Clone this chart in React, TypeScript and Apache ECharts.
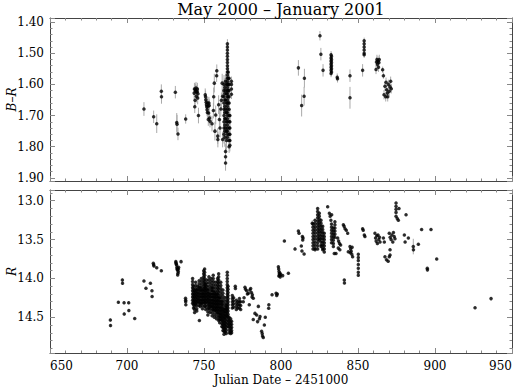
import React, { useEffect, useRef } from "react";
import * as echarts from "echarts";

// ---------- DATA ----------
const xTickLabels = [650, 700, 750, 800, 850, 900, 950];
const titleText = "May 2000 – January 2001";
const xName = "Julian Date – 2451000";

// B-R individual points: [JD-2451000, B-R, error]
const brPoints: [number, number, number][] = [
  [711.0, 1.679, 0.022], [717.3, 1.704, 0.02], [719.3, 1.726, 0.03], [722.3, 1.622, 0.022], [722.4, 1.64, 0.022],
  [731.4, 1.625, 0.02], [732.3, 1.722, 0.03], [732.5, 1.728, 0.03], [733.1, 1.759, 0.02], [738.1, 1.711, 0.015],
  [743.6, 1.628, 0.02], [743.8, 1.615, 0.02], [744.0, 1.672, 0.02], [744.2, 1.651, 0.02], [744.4, 1.617, 0.02],
  [744.6, 1.622, 0.02], [744.8, 1.612, 0.02], [745.0, 1.638, 0.02], [745.2, 1.625, 0.02], [745.5, 1.622, 0.02],
  [745.7, 1.615, 0.02], [745.9, 1.644, 0.02], [746.1, 1.63, 0.02], [746.4, 1.7, 0.025],
  [750.8, 1.633, 0.02], [751.0, 1.64, 0.02], [751.2, 1.649, 0.02], [751.4, 1.657, 0.02], [751.6, 1.665, 0.02],
  [751.8, 1.672, 0.02], [752.0, 1.681, 0.02], [752.2, 1.69, 0.02], [752.4, 1.66, 0.02], [752.6, 1.67, 0.02],
  [752.8, 1.713, 0.02], [753.0, 1.692, 0.02], [753.2, 1.66, 0.02], [753.4, 1.668, 0.02], [753.6, 1.708, 0.02],
  [753.9, 1.718, 0.02],
  [755.2, 1.726, 0.025], [756.1, 1.684, 0.025], [756.3, 1.64, 0.03], [756.7, 1.596, 0.03], [757.1, 1.75, 0.03],
  [757.6, 1.698, 0.03], [758.2, 1.572, 0.02], [758.3, 1.556, 0.02], [758.9, 1.766, 0.025], [759.0, 1.777, 0.025],
  [759.5, 1.665, 0.03], [760.0, 1.713, 0.03], [760.4, 1.74, 0.03], [760.9, 1.679, 0.025], [761.3, 1.651, 0.025],
  [761.8, 1.596, 0.03], [762.1, 1.777, 0.025], [762.1, 1.638, 0.025],
  [811.3, 1.547, 0.025], [813.4, 1.668, 0.035], [815.0, 1.638, 0.03], [815.2, 1.58, 0.03], [825.3, 1.444, 0.015],
  [825.9, 1.503, 0.02], [827.3, 1.555, 0.02], [836.5, 1.577, 0.012], [836.7, 1.582, 0.012], [844.8, 1.572, 0.02],
  [844.8, 1.643, 0.035], [853.0, 1.555, 0.02],
  [861.7, 1.552, 0.015], [862.0, 1.528, 0.015], [862.3, 1.52, 0.015], [862.6, 1.535, 0.015], [863.0, 1.525, 0.015],
  [863.3, 1.545, 0.015], [863.6, 1.53, 0.015], [863.8, 1.52, 0.015], [866.0, 1.553, 0.01], [866.5, 1.572, 0.01],
  [866.9, 1.633, 0.015], [867.5, 1.606, 0.015], [868.0, 1.64, 0.015], [868.2, 1.593, 0.015], [868.6, 1.617, 0.015],
  [869.1, 1.628, 0.015], [869.3, 1.64, 0.015], [869.7, 1.6, 0.015], [870.3, 1.622, 0.015], [870.8, 1.608, 0.015],
  [871.2, 1.59, 0.015], [871.6, 1.614, 0.015],
];

// B-R nights with many observations: [JD-2451000, error, values]
const brStrips: [number, number, number[]][] = [
  [763.0, 0.03, [1.6, 1.62, 1.64, 1.66, 1.68, 1.7, 1.72, 1.74, 1.76]],
  [763.5, 0.03, [1.61, 1.63, 1.65, 1.67, 1.69, 1.71, 1.73, 1.75, 1.77]],
  [764.0, 0.025, [1.59, 1.62, 1.65, 1.68, 1.71, 1.74, 1.815, 1.832, 1.852]],
  [764.6, 0.03, [1.6, 1.63, 1.66, 1.69, 1.72, 1.75, 1.78]],
  [765.2, 0.015, [1.47, 1.48, 1.49, 1.5, 1.51, 1.52, 1.53, 1.54, 1.55, 1.56, 1.57, 1.58, 1.59, 1.6, 1.61, 1.62, 1.63, 1.64, 1.65, 1.66, 1.67, 1.68, 1.69, 1.7, 1.71, 1.72, 1.73, 1.74, 1.75, 1.76, 1.77]],
  [765.7, 0.02, [1.56, 1.58, 1.6, 1.62, 1.64, 1.66]],
  [766.3, 0.02, [1.58, 1.6, 1.62, 1.64, 1.66, 1.68, 1.7, 1.72, 1.74, 1.76, 1.78, 1.8]],
  [766.8, 0.02, [1.7, 1.72, 1.74, 1.76, 1.78, 1.795]],
  [767.8, 0.015, [1.59, 1.6, 1.615, 1.632]],
  [832.5, 0.012, [1.505, 1.515, 1.525, 1.535, 1.545, 1.555, 1.565]],
  [832.8, 0.012, [1.51, 1.52, 1.53, 1.54, 1.55, 1.56]],
  [854.0, 0.01, [1.46, 1.47, 1.48, 1.49, 1.5, 1.505]],
];

// R individual points: [JD-2451000, R, error]
const rPoints: [number, number, number][] = [
  [689.2, 14.535, 0.02], [689.3, 14.607, 0.02], [694.4, 14.307, 0.015], [697.0, 14.02, 0.02], [697.1, 14.063, 0.02],
  [698.1, 14.312, 0.02], [698.2, 14.457, 0.02], [701.1, 14.312, 0.02], [701.2, 14.414, 0.02], [705.0, 14.517, 0.01],
  [711.0, 14.033, 0.01], [712.3, 14.127, 0.01], [715.2, 14.063, 0.01], [716.2, 14.16, 0.01], [716.3, 14.234, 0.01],
  [717.1, 13.806, 0.01], [717.3, 13.825, 0.01], [717.5, 13.84, 0.01], [719.3, 13.862, 0.01], [722.3, 13.9, 0.01],
  [731.7, 13.784, 0.01], [731.8, 13.8, 0.01], [732.0, 13.815, 0.01], [732.2, 13.827, 0.01], [732.4, 13.86, 0.01],
  [732.6, 13.88, 0.01], [732.7, 13.89, 0.01], [732.9, 13.956, 0.01], [733.1, 13.934, 0.01], [733.3, 13.91, 0.01],
  [733.5, 13.857, 0.01], [733.4, 13.88, 0.01], [735.1, 13.784, 0.01],
  [738.0, 14.256, 0.01], [738.1, 14.28, 0.01], [738.1, 14.3, 0.01], [738.2, 14.34, 0.01],
  [747.0, 14.543, 0.01], [770.3, 14.1, 0.01], [770.4, 14.13, 0.01],
  [775.5, 14.3, 0.01], [776.0, 14.25, 0.01], [776.6, 14.114, 0.01], [777.0, 14.14, 0.01], [777.7, 14.16, 0.01],
  [778.2, 14.2, 0.01], [778.8, 14.19, 0.01], [779.4, 14.34, 0.01], [779.8, 14.15, 0.01], [780.3, 14.13, 0.01],
  [780.8, 14.18, 0.01], [781.4, 14.21, 0.01], [782.0, 14.256, 0.01], [781.2, 14.24, 0.01],
  [782.0, 14.53, 0.01], [783.1, 14.45, 0.01], [784.2, 14.47, 0.01], [784.8, 14.556, 0.01], [785.3, 14.36, 0.01],
  [786.4, 14.49, 0.01], [786.0, 14.52, 0.01],
  [787.4, 14.68, 0.01], [787.8, 14.71, 0.01], [788.0, 14.74, 0.01], [788.5, 14.76, 0.01], [789.2, 14.6, 0.01],
  [789.8, 14.5, 0.01], [792.0, 14.385, 0.01], [792.1, 14.34, 0.01], [794.2, 14.21, 0.01], [796.8, 14.19, 0.01],
  [797.2, 14.22, 0.01], [797.6, 14.2, 0.01],
  [798.3, 13.85, 0.01], [798.5, 13.88, 0.01], [798.7, 13.91, 0.01], [798.9, 13.94, 0.01], [799.1, 13.96, 0.01],
  [799.3, 13.93, 0.01], [799.5, 13.98, 0.01], [799.8, 13.95, 0.01], [798.6, 13.97, 0.01],
  [801.1, 13.964, 0.01], [802.2, 13.519, 0.01], [804.8, 13.934, 0.01], [809.1, 13.62, 0.01], [811.3, 13.39, 0.01],
  [811.7, 13.42, 0.01], [813.2, 13.583, 0.01], [813.6, 13.647, 0.01], [813.9, 13.46, 0.01], [814.1, 13.506, 0.01],
  [814.3, 13.48, 0.01], [815.0, 13.686, 0.01], [820.3, 13.29, 0.04],
  [830.3, 13.077, 0.01], [831.4, 13.16, 0.01], [831.9, 13.2, 0.01], [832.4, 13.25, 0.01], [832.9, 13.18, 0.01],
  [834.6, 13.68, 0.01], [835.7, 13.68, 0.01],
  [836.8, 13.48, 0.01], [837.4, 13.52, 0.01], [838.0, 13.55, 0.01], [838.7, 13.57, 0.01], [837.2, 13.61, 0.01],
  [838.2, 13.63, 0.01],
  [840.5, 13.31, 0.01], [841.0, 13.33, 0.01], [841.6, 13.36, 0.01], [842.4, 13.38, 0.01], [843.3, 13.42, 0.01],
  [841.1, 14.02, 0.01], [841.2, 14.06, 0.01], [843.7, 13.656, 0.01],
  [844.8, 13.59, 0.01], [845.2, 13.62, 0.01], [845.6, 13.65, 0.01], [846.0, 13.69, 0.01], [846.5, 13.72, 0.01],
  [845.0, 13.67, 0.01], [846.2, 13.6, 0.01],
  [853.0, 13.36, 0.01], [853.4, 13.38, 0.01], [854.1, 13.44, 0.01], [854.5, 13.46, 0.01],
  [861.0, 13.42, 0.01], [861.4, 13.48, 0.01], [861.8, 13.52, 0.01], [862.2, 13.45, 0.01], [862.6, 13.55, 0.01],
  [863.0, 13.44, 0.01], [863.5, 13.5, 0.01], [864.0, 13.47, 0.01], [864.3, 13.53, 0.01],
  [866.5, 13.48, 0.01], [867.1, 13.53, 0.01],
  [867.5, 13.72, 0.01], [868.5, 13.76, 0.01], [869.6, 13.78, 0.01], [870.3, 13.72, 0.01], [870.8, 13.7, 0.01],
  [870.8, 13.63, 0.01],
  [870.3, 13.42, 0.01], [870.9, 13.47, 0.01], [871.5, 13.5, 0.01], [872.0, 13.44, 0.01], [872.6, 13.53, 0.01],
  [873.0, 13.41, 0.01], [873.5, 13.46, 0.01], [874.0, 13.49, 0.01],
  [875.5, 13.23, 0.01], [876.2, 13.25, 0.01], [876.6, 13.1, 0.01], [881.2, 13.18, 0.01], [880.1, 13.44, 0.01],
  [880.6, 13.53, 0.01], [882.7, 13.48, 0.01], [885.9, 13.59, 0.1], [886.0, 13.63, 0.03], [889.2, 13.56, 0.01],
  [891.3, 13.37, 0.01], [895.0, 13.87, 0.01], [895.1, 13.89, 0.01], [897.4, 13.37, 0.01], [901.1, 13.75, 0.01],
  [926.0, 14.377, 0.01], [936.4, 14.26, 0.01],
];

// R nights with many observations: [JD-2451000, error, values]
const rStrips: [number, number, number[]][] = [
  [742.6, 0.01, [14.0, 14.04, 14.08, 14.12, 14.16, 14.2, 14.24, 14.28, 14.32]],
  [743.2, 0.01, [14.1, 14.14, 14.18, 14.22, 14.26, 14.3, 14.34, 14.38]],
  [743.9, 0.01, [14.16, 14.2, 14.24, 14.28, 14.32, 14.36, 14.4, 14.44]],
  [744.6, 0.01, [14.05, 14.09, 14.13, 14.17, 14.21, 14.25, 14.29, 14.33]],
  [745.3, 0.01, [14.15, 14.19, 14.23, 14.27, 14.31, 14.35, 14.39, 14.42]],
  [746.0, 0.01, [14.1, 14.14, 14.18, 14.22, 14.26, 14.3]],
  [746.8, 0.01, [14.03, 14.07, 14.11, 14.15, 14.19, 14.23, 14.27, 14.31, 14.35]],
  [747.6, 0.01, [14.12, 14.16, 14.2, 14.24, 14.28, 14.32, 14.36]],
  [748.3, 0.01, [14.0, 14.04, 14.08, 14.12, 14.16, 14.2, 14.24, 14.28, 14.32]],
  [749.0, 0.01, [14.15, 14.19, 14.23, 14.27, 14.31, 14.35, 14.39]],
  [749.8, 0.01, [13.9, 13.94, 13.98, 14.02, 14.06, 14.1, 14.14, 14.18, 14.22, 14.26, 14.3]],
  [750.4, 0.01, [13.88, 13.92, 13.96, 14.0, 14.04, 14.08, 14.12, 14.16, 14.2, 14.24, 14.28, 14.32, 14.36]],
  [751.1, 0.01, [14.08, 14.12, 14.16, 14.2, 14.24, 14.28, 14.32, 14.36, 14.4]],
  [751.8, 0.01, [14.02, 14.06, 14.1, 14.14, 14.18, 14.22, 14.26, 14.3]],
  [752.5, 0.01, [14.15, 14.19, 14.23, 14.27, 14.31, 14.35, 14.39, 14.43, 14.47]],
  [753.2, 0.01, [13.98, 14.02, 14.06, 14.1, 14.14, 14.18, 14.22, 14.26, 14.3, 14.34, 14.38]],
  [753.9, 0.01, [14.2, 14.24, 14.28, 14.32, 14.36, 14.4, 14.44]],
  [754.6, 0.01, [14.0, 14.04, 14.08, 14.12, 14.16, 14.2, 14.24, 14.28, 14.32, 14.36]],
  [755.3, 0.01, [14.12, 14.16, 14.2, 14.24, 14.28, 14.32, 14.36, 14.4, 14.44, 14.48]],
  [756.0, 0.01, [13.96, 14.0, 14.04, 14.08, 14.12, 14.16, 14.2, 14.24, 14.28, 14.32, 14.36, 14.4]],
  [756.7, 0.01, [14.18, 14.22, 14.26, 14.3, 14.34, 14.38, 14.42, 14.46, 14.5]],
  [757.4, 0.01, [14.05, 14.09, 14.13, 14.17, 14.21, 14.25, 14.29, 14.33, 14.37, 14.41]],
  [758.1, 0.01, [14.2, 14.24, 14.28, 14.32, 14.36, 14.4, 14.44, 14.48, 14.52]],
  [758.8, 0.01, [14.0, 14.04, 14.08, 14.12, 14.16, 14.2, 14.24, 14.28, 14.32, 14.36, 14.4, 14.44]],
  [759.5, 0.01, [13.94, 13.98, 14.02, 14.06, 14.1, 14.14, 14.18, 14.22, 14.26, 14.3, 14.34, 14.38, 14.42, 14.46, 14.5, 14.54]],
  [760.2, 0.01, [14.25, 14.29, 14.33, 14.37, 14.41, 14.45, 14.49, 14.53, 14.57]],
  [760.9, 0.01, [14.05, 14.09, 14.13, 14.17, 14.21, 14.25, 14.29, 14.33, 14.37, 14.41, 14.45, 14.49, 14.53]],
  [761.6, 0.01, [14.3, 14.34, 14.38, 14.42, 14.46, 14.5, 14.54, 14.58, 14.62]],
  [762.3, 0.01, [14.15, 14.19, 14.23, 14.27, 14.31, 14.35, 14.39, 14.43, 14.47, 14.51, 14.55, 14.59, 14.63, 14.67]],
  [763.0, 0.01, [14.4, 14.44, 14.48, 14.52, 14.56, 14.6, 14.64, 14.68, 14.72]],
  [763.7, 0.01, [14.25, 14.29, 14.33, 14.37, 14.41, 14.45, 14.49, 14.53, 14.57, 14.61, 14.65, 14.69]],
  [764.4, 0.01, [14.35, 14.39, 14.43, 14.47, 14.51, 14.55, 14.59, 14.63, 14.67, 14.71]],
  [765.1, 0.01, [13.92, 13.96, 14.0, 14.04, 14.08, 14.12, 14.16, 14.2, 14.24, 14.28, 14.32, 14.36, 14.4, 14.44, 14.48]],
  [765.6, 0.01, [14.1, 14.14, 14.18, 14.22, 14.26, 14.3, 14.34, 14.38, 14.42, 14.46, 14.5, 14.54, 14.58, 14.62]],
  [766.3, 0.01, [14.5, 14.54, 14.58, 14.62, 14.66, 14.7]],
  [767.3, 0.01, [14.52, 14.56, 14.6, 14.64, 14.68, 14.71]],
  [767.9, 0.01, [14.55, 14.59, 14.63, 14.67, 14.7]],
  [768.4, 0.01, [14.22, 14.26, 14.3, 14.34, 14.38]],
  [769.2, 0.01, [14.25, 14.29, 14.33, 14.37]],
  [771.0, 0.01, [14.28, 14.32, 14.36, 14.4]],
  [772.0, 0.01, [14.3, 14.34, 14.38]],
  [773.0, 0.01, [14.26, 14.3, 14.34, 14.38]],
  [773.8, 0.01, [14.3, 14.35, 14.4]],
  [820.8, 0.015, [13.3, 13.34, 13.38, 13.42, 13.46, 13.5, 13.54, 13.58, 13.62]],
  [822.1, 0.015, [13.25, 13.29, 13.33, 13.37, 13.41, 13.45, 13.49, 13.53, 13.57, 13.61, 13.63]],
  [823.8, 0.015, [13.1, 13.14, 13.18, 13.22, 13.26, 13.3, 13.34, 13.38, 13.42, 13.46, 13.5, 13.54, 13.58, 13.62]],
  [824.9, 0.015, [13.16, 13.2, 13.24, 13.28, 13.32, 13.36, 13.4, 13.44, 13.48, 13.51]],
  [826.0, 0.015, [13.25, 13.29, 13.33, 13.37, 13.41, 13.45, 13.49, 13.53, 13.57, 13.59]],
  [827.1, 0.015, [13.33, 13.37, 13.41, 13.45, 13.49, 13.53, 13.57, 13.61, 13.63]],
  [828.1, 0.015, [13.42, 13.46, 13.5, 13.54, 13.58, 13.62, 13.66]],
  [832.8, 0.01, [13.3, 13.34, 13.38, 13.42, 13.46, 13.5, 13.54]],
  [834.0, 0.01, [13.35, 13.39, 13.43, 13.47, 13.51, 13.55, 13.59]],
  [835.0, 0.01, [13.27, 13.31, 13.35, 13.39, 13.43, 13.47]],
  [850.2, 0.01, [13.69, 13.73, 13.77, 13.82, 13.87, 13.92, 13.96]],
  [874.7, 0.01, [13.03, 13.07, 13.11, 13.15, 13.2]],
];

// ---------- COMPONENT ----------
const flatten = (pts: [number, number, number][], strips: [number, number, number[]][]) => {
  const out: [number, number, number][] = pts.slice();
  strips.forEach(([x, e, ys]) => ys.forEach((y) => out.push([x, y, e])));
  return out;
};

const FONT = "DejaVu Serif";
const AXIS_COLOR = "#444";
const TICK_COLOR = "#888";

export default function App() {
  const ref = useRef<HTMLDivElement>(null);
  useEffect(() => {
    if (!ref.current) return;
    const chart = echarts.init(ref.current, undefined, { renderer: "svg" });
    const br = flatten(brPoints, brStrips);
    const r = flatten(rPoints, rStrips);

    const xBase = (gi: number, pos: "top" | "bottom", labels: boolean) => ({
      type: "value",
      gridIndex: gi,
      position: pos,
      min: xTickLabels[0],
      max: xTickLabels[xTickLabels.length - 1],
      interval: 50,
      axisLine: { show: true, onZero: false, lineStyle: { color: AXIS_COLOR, width: 1 } },
      axisTick: { show: true, inside: true, length: 5, lineStyle: { color: TICK_COLOR } },
      minorTick: { show: true, splitNumber: 5, length: 2.5, lineStyle: { color: TICK_COLOR } },
      splitLine: { show: false },
      axisLabel: {
        show: labels,
        color: "#000",
        fontFamily: FONT,
        fontSize: 12,
        margin: 7,
        alignMinLabel: "left",
        alignMaxLabel: "right",
      },
      ...(labels
        ? {
            name: xName,
            nameLocation: "middle",
            nameGap: 21,
            nameMoveOverlap: false,
            nameTextStyle: { color: "#000", fontFamily: FONT, fontSize: 12 },
          }
        : {}),
    });

    const yBase = (
      gi: number,
      pos: "left" | "right",
      min: number,
      max: number,
      split: number,
      dec: number,
      name: string | null
    ) => ({
      type: "value",
      gridIndex: gi,
      position: pos,
      inverse: true,
      min,
      max,
      splitNumber: split,
      axisLine: { show: true, onZero: false, lineStyle: { color: AXIS_COLOR, width: 1 } },
      axisTick: { show: true, inside: true, length: 5, lineStyle: { color: TICK_COLOR } },
      minorTick: { show: true, splitNumber: 5, length: 2.5, lineStyle: { color: TICK_COLOR } },
      splitLine: { show: false },
      axisLabel: {
        show: pos === "left",
        color: "#000",
        fontFamily: FONT,
        fontSize: 12,
        margin: 6,
        showMinLabel: false,
        showMaxLabel: false,
        formatter: (v: number) => v.toFixed(dec),
      },
      ...(name
        ? {
            name,
            nameLocation: "middle",
            nameGap: 32,
            nameRotate: 90,
            nameMoveOverlap: false,
            nameTextStyle: { color: "#000", fontFamily: FONT, fontSize: 12, fontStyle: "italic" },
          }
        : {}),
    });

    const errSeries = (data: [number, number, number][], xi: number, yi: number) => ({
      type: "custom",
      xAxisIndex: xi,
      yAxisIndex: yi,
      silent: true,
      z: 1,
      data: data.map((p) => [p[0], p[1] - p[2], p[1] + p[2]]),
      encode: { x: 0, y: [1, 2] },
      renderItem: (_params: any, api: any) => {
        const a = api.coord([api.value(0), api.value(1)]);
        const b = api.coord([api.value(0), api.value(2)]);
        return {
          type: "line",
          shape: { x1: a[0], y1: a[1], x2: b[0], y2: b[1] },
          style: { stroke: "#aaa", lineWidth: 1 },
        };
      },
    });

    const ptSeries = (data: [number, number, number][], xi: number, yi: number) => ({
      type: "scatter",
      xAxisIndex: xi,
      yAxisIndex: yi,
      silent: true,
      z: 2,
      symbol: "circle",
      symbolSize: 3.5,
      itemStyle: { color: "#000" },
      data: data.map((p) => [p[0], p[1]]),
    });

    chart.setOption({
      animation: false,
      backgroundColor: "#fff",
      title: {
        text: titleText,
        left: 281,
        textAlign: "center",
        top: 1,
        padding: 0,
        textStyle: { fontFamily: FONT, fontSize: 16, fontWeight: "normal", color: "#000" },
      },
      grid: [
        { left: 50, top: 18, width: 462, height: 163, outerBoundsMode: "none", containLabel: false },
        { left: 50, top: 190, width: 462, height: 163, outerBoundsMode: "none", containLabel: false },
      ],
      xAxis: [xBase(0, "bottom", false), xBase(0, "top", false), xBase(1, "bottom", true), xBase(1, "top", false)],
      yAxis: [
        yBase(0, "left", 1.387, 1.91, 5, 2, "B–R"),
        yBase(0, "right", 1.387, 1.91, 5, 2, null),
        yBase(1, "left", 12.862, 14.96, 4, 1, "R"),
        yBase(1, "right", 12.862, 14.96, 4, 1, null),
      ],
      series: [errSeries(br, 0, 0), ptSeries(br, 0, 0), errSeries(r, 2, 2), ptSeries(r, 2, 2)],
    });
    return () => chart.dispose();
  }, []);
  return <div ref={ref} style={{ width: 531, height: 387, position: "absolute", left: 0, top: 0 }} />;
}
